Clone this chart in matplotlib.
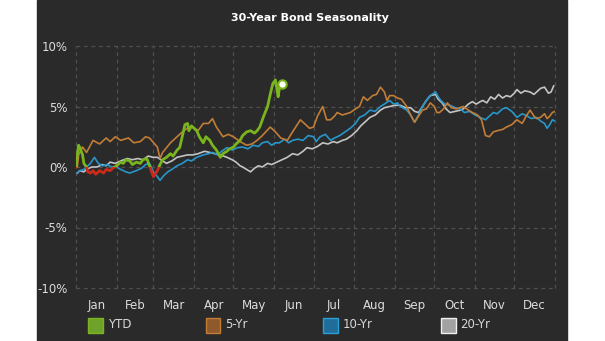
import matplotlib
matplotlib.use('Agg')
import matplotlib.pyplot as plt
from matplotlib.patches import Rectangle
import numpy as np

# ===================================== Data ==========================================================
# (day of year, cumulative return %)
five_yr = [(1, 0.0), (2, 1.0), (5, 1.65), (8, 1.2), (13, 2.2), (18, 1.9), (23, 2.4), (26, 2.1), (30, 2.5),
           (34, 2.2), (40, 2.4), (44, 2.0), (49, 2.1), (53, 2.5), (56, 2.4), (60, 1.9), (62, 1.65), (64, 0.7),
           (66, 1.2), (72, 2.0), (76, 2.4), (82, 3.0), (85, 3.2), (89, 3.3), (93, 3.0), (97, 3.6), (101, 3.6),
           (104, 4.0), (107, 3.3), (112, 2.5), (116, 2.7), (120, 2.5), (125, 2.1), (130, 1.8), (134, 1.9),
           (138, 2.2), (142, 2.6), (148, 3.3), (152, 2.9), (156, 2.4), (161, 2.2), (165, 2.9), (168, 3.4),
           (171, 3.9), (174, 3.6), (178, 3.2), (181, 3.3), (184, 4.2), (188, 5.0), (191, 3.9), (194, 3.9),
           (197, 4.2), (199, 4.5), (203, 4.3), (209, 4.5), (213, 4.8), (216, 5.0), (219, 5.8), (222, 5.5),
           (226, 5.9), (229, 6.0), (232, 6.6), (235, 6.2), (237, 5.5), (239, 5.9), (242, 5.9), (245, 5.7),
           (248, 5.6), (252, 5.0), (255, 4.3), (258, 3.7), (261, 4.2), (264, 4.7), (267, 4.8), (270, 5.3),
           (273, 5.0), (275, 4.5), (277, 4.5), (280, 4.8), (283, 5.3), (286, 4.9), (290, 4.8), (295, 5.0),
           (299, 4.7), (302, 4.5), (306, 4.3), (309, 3.9), (312, 2.6), (315, 2.5), (318, 2.9), (321, 3.0),
           (325, 3.1), (328, 3.3), (332, 3.5), (336, 3.9), (340, 3.6), (343, 4.2), (346, 4.7), (349, 4.2),
           (351, 4.0), (354, 4.1), (357, 4.4), (359, 4.0), (361, 4.2), (363, 4.5), (365, 4.6)]

ten_yr = [(1, -0.5), (3, -0.3), (6, -0.2), (8, 0.0), (11, 0.3), (14, 0.8), (17, 0.3), (20, 0.1), (24, 0.2),
          (27, 0.0), (31, 0.0), (34, -0.2), (38, -0.4), (41, -0.5), (46, -0.3), (50, -0.1), (53, 0.2),
          (56, 0.3), (59, -0.4), (62, -0.8), (64, -1.1), (67, -0.7), (70, -0.4), (73, -0.2), (77, 0.1),
          (81, 0.3), (85, 0.6), (88, 0.5), (92, 0.8), (97, 1.0), (101, 1.1), (104, 1.2), (108, 1.0),
          (111, 1.3), (115, 1.6), (119, 1.4), (123, 1.6), (127, 1.65), (131, 1.5), (135, 1.8), (139, 1.7),
          (142, 2.0), (146, 2.1), (149, 1.8), (152, 2.0), (155, 2.0), (159, 2.3), (162, 2.0), (165, 2.2),
          (169, 2.3), (173, 2.2), (177, 2.6), (181, 2.5), (183, 2.1), (186, 2.5), (190, 2.7), (194, 2.2),
          (197, 2.4), (201, 2.6), (205, 2.9), (209, 3.2), (213, 3.6), (216, 4.1), (220, 4.3), (224, 4.7),
          (228, 4.6), (232, 5.0), (235, 5.2), (239, 5.5), (242, 5.2), (245, 5.3), (247, 5.0), (249, 4.9),
          (252, 4.7), (255, 4.3), (258, 3.7), (261, 4.3), (264, 5.0), (267, 5.5), (270, 5.9), (274, 6.2),
          (276, 5.8), (278, 5.5), (281, 5.2), (285, 5.1), (289, 4.9), (293, 4.8), (296, 4.5), (300, 4.6),
          (304, 4.3), (308, 4.1), (312, 3.9), (314, 4.1), (318, 4.5), (321, 4.4), (325, 4.8), (328, 4.9),
          (332, 4.6), (336, 4.1), (340, 4.4), (344, 4.2), (347, 4.0), (351, 4.1), (354, 3.8), (357, 3.6),
          (359, 3.2), (361, 3.5), (363, 3.9), (365, 3.8)]

twenty_yr = [(1, -0.5), (3, -0.3), (6, -0.4), (8, -0.2), (12, 0.0), (16, 0.0), (20, 0.2), (23, 0.1),
             (26, 0.4), (30, 0.3), (34, 0.5), (39, 0.7), (43, 0.6), (47, 0.7), (51, 0.6), (55, 0.9), (59, 0.8),
             (62, 0.8), (66, 0.5), (69, 0.3), (73, 0.5), (77, 0.8), (81, 0.9), (85, 1.0), (89, 1.0), (93, 1.1),
             (98, 1.3), (102, 1.2), (106, 1.1), (110, 1.0), (115, 0.8), (119, 0.6), (122, 0.4), (125, 0.1),
             (127, 0.0), (130, -0.2), (133, -0.4), (136, -0.1), (139, 0.1), (142, 0.0), (146, 0.3), (149, 0.2),
             (153, 0.4), (157, 0.6), (161, 0.8), (165, 1.1), (169, 1.0), (173, 1.3), (176, 1.6), (180, 1.5),
             (184, 1.7), (188, 2.0), (192, 1.9), (196, 2.1), (199, 2.0), (203, 2.2), (206, 2.3), (210, 2.6),
             (214, 3.0), (217, 3.4), (221, 3.8), (224, 4.1), (228, 4.3), (232, 4.7), (235, 4.9), (239, 5.0),
             (243, 5.1), (247, 5.1), (251, 4.9), (255, 4.9), (258, 4.6), (261, 4.5), (264, 5.0), (267, 5.5),
             (270, 5.9), (274, 6.0), (276, 5.6), (279, 5.3), (282, 4.8), (285, 4.5), (289, 4.6), (293, 4.7),
             (295, 4.8), (299, 5.2), (302, 5.4), (305, 5.2), (308, 5.4), (310, 5.5), (313, 5.3), (316, 5.8),
             (319, 5.6), (322, 6.0), (325, 5.7), (328, 5.9), (331, 5.8), (334, 6.1), (336, 6.4), (339, 6.1),
             (342, 6.3), (346, 6.2), (349, 6.0), (351, 6.2), (354, 6.5), (357, 6.6), (360, 6.1), (362, 6.2),
             (364, 6.7)]

ytd = [(0, 0.0), (1, 1.0), (2, 1.8), (3, 1.6), (5, 1.0), (6, 0.3), (8, 0.0), (9, -0.4), (11, -0.5),
       (13, -0.3), (15, -0.6), (18, -0.3), (21, -0.5), (23, -0.2), (26, -0.3), (28, -0.1), (31, 0.1),
       (34, 0.4), (36, 0.3), (38, 0.6), (41, 0.5), (43, 0.2), (46, 0.4), (49, 0.3), (51, 0.6), (54, 0.7),
       (56, 0.1), (58, -0.5), (59, -0.8), (62, -0.3), (64, 0.2), (66, 0.6), (69, 0.8), (72, 1.1), (74, 0.9),
       (77, 1.4), (79, 1.6), (82, 3.0), (83, 3.5), (85, 3.6), (86, 3.0), (88, 3.4), (90, 3.2), (92, 3.0),
       (94, 2.5), (97, 2.0), (99, 2.5), (102, 2.2), (104, 1.8), (107, 1.4), (110, 0.8), (112, 1.1),
       (115, 1.3), (117, 1.5), (120, 1.65), (122, 1.9), (125, 2.2), (127, 2.6), (130, 2.9), (133, 3.0),
       (136, 2.8), (138, 3.0), (140, 3.3), (143, 4.2), (146, 5.0), (148, 6.0), (150, 6.9), (152, 7.2),
       (154, 5.8), (155, 6.5), (157, 6.9)]

months = ['Jan', 'Feb', 'Mar', 'Apr', 'May', 'Jun', 'Jul', 'Aug', 'Sep', 'Oct', 'Nov', 'Dec']
month_len = [31, 28, 31, 30, 31, 30, 31, 31, 30, 31, 30, 31]
yticks = [-10, -5, 0, 5, 10]
labels = ['YTD', '5-Yr', '10-Yr', '20-Yr']

bg = '#2a2a2a'
c_ytd = '#7ab51d'
c_neg = '#cc2a1a'
c_five = '#c27d37'
c_ten = '#2796cb'
c_twenty = '#c4c4c4'

# ===================================== Figure ==========================================================
W, H = 605, 341
fig = plt.figure(figsize=(W / 100, H / 100), dpi=100, facecolor='white')
fig.patches.append(Rectangle((37 / W, 0), 530 / W, 1, transform=fig.transFigure, color=bg, zorder=-5))

ax = fig.add_axes([76 / W, 53 / H, 479 / W, 242 / H])
ax.set_facecolor(bg)
for s in ax.spines.values():
    s.set_visible(False)

bounds = np.concatenate([[0], np.cumsum(month_len)])
mids = (bounds[:-1] + bounds[1:]) / 2

ax.set_xlim(0, 365)
ax.set_ylim(-10, 10)
ax.set_xticks(bounds)
ax.set_xticklabels([])
ax.set_xticks(mids, minor=True)
ax.set_xticklabels(months, minor=True)
ax.set_yticks(yticks)
ax.set_yticklabels(['%d%%' % v for v in yticks])
ax.tick_params(which='both', length=0, colors='#dcdcdc', labelsize=8.5)
ax.tick_params(axis='x', which='minor', pad=8)
ax.tick_params(axis='y', pad=6)
ax.grid(True, which='major', color='#505050', linestyle=(0, (3, 3)), linewidth=0.9)
for gl in ax.get_xgridlines() + ax.get_ygridlines():
    gl.set_clip_on(False)

for series, col in [(twenty_yr, c_twenty), (ten_yr, c_ten), (five_yr, c_five)]:
    d, v = zip(*series)
    ax.plot(d, v, color=col, lw=1.2, zorder=3)

# YTD: green above zero, red below zero
yd, yv = zip(*ytd)
pos, = ax.plot(yd, yv, color=c_ytd, lw=2.0, zorder=4)
neg, = ax.plot(yd, yv, color=c_neg, lw=2.0, zorder=4)
pos.set_clip_path(Rectangle((0, 0), 365, 10, transform=ax.transData))
neg.set_clip_path(Rectangle((0, -10), 365, 10, transform=ax.transData))
ax.plot(yd[-1], yv[-1], 'o', ms=6, mfc='white', mec=c_ytd, mew=1.5, zorder=5)

fig.text(310 / W, 1 - 18 / H, '30-Year Bond Seasonality', ha='center', va='center',
         color='white', fontsize=8, fontweight='bold')

# legend
faces = ['#6fa22a', '#8e5a2c', '#1f6d98', '#a2a2a2']
edges = ['#7ab51d', '#c27d37', '#2a9fd6', '#f0f0f0']
for i in range(4):
    x0 = 88 + i * 117.5
    fig.patches.append(Rectangle((x0 / W, 1 - 333 / H), 15 / W, 15 / H, transform=fig.transFigure,
                                 facecolor=faces[i], edgecolor=edges[i], lw=1.0, zorder=2))
    fig.text((x0 + 20) / W, 1 - 325 / H, labels[i], ha='left', va='center', color='#d8d8d8', fontsize=8.5)

plt.savefig('out.png', dpi=100, facecolor='white')
